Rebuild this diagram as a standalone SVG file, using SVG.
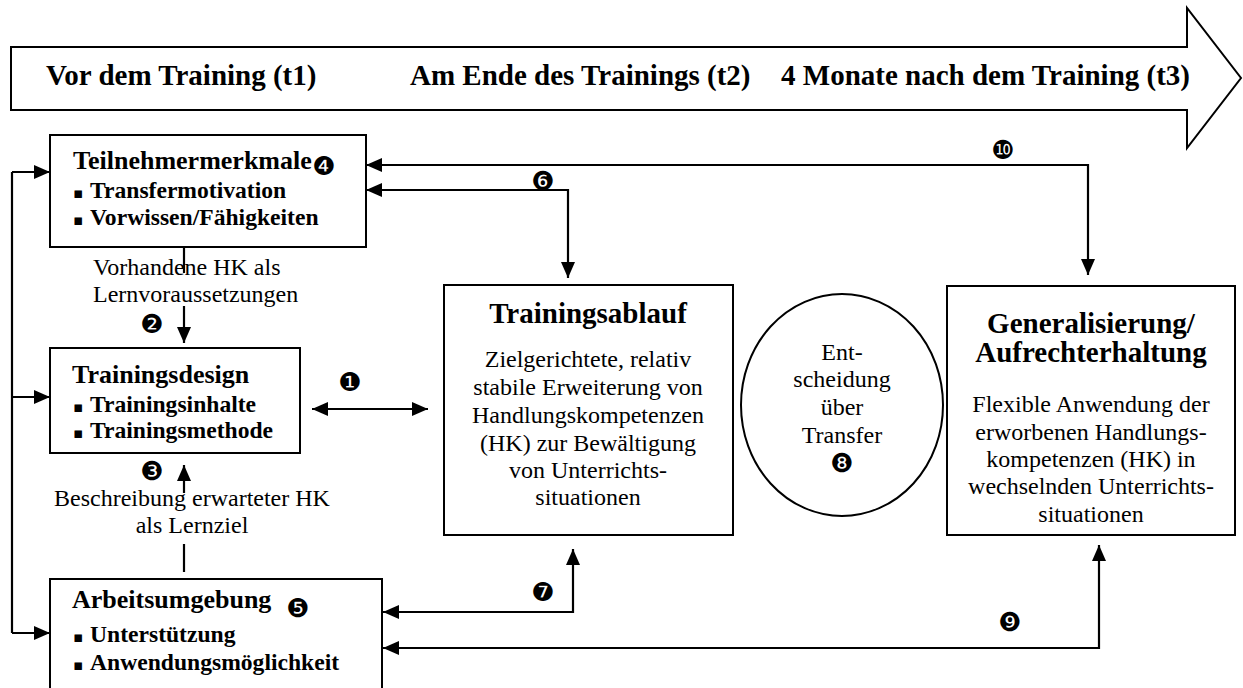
<svg xmlns="http://www.w3.org/2000/svg" width="1243" height="688" viewBox="0 0 1243 688">
  <style>
    .box { fill: #fff; stroke: #000; stroke-width: 2; }
    .line { fill: none; stroke: #000; stroke-width: 2.2; }
    .band, .h1, .h2, .item, .body { font-family: 'Liberation Serif', 'Times New Roman', Times, 'DejaVu Serif', serif; fill: #000; }
    .band { font-weight: bold; font-size: 29px; }
    .h1 { font-weight: bold; font-size: 29px; text-anchor: middle; }
    .h2 { font-weight: bold; font-size: 26px; }
    .item { font-weight: bold; font-size: 23.6px; }
    .body { font-size: 24px; }
    .mid { text-anchor: middle; }
    .num { font-family: 'DejaVu Sans', sans-serif; font-size: 26px; fill: #000; text-anchor: middle; }
    .sq { font-family: 'DejaVu Sans', sans-serif; font-size: 15px; }
  </style>
  <defs>
    <marker id="head" markerUnits="userSpaceOnUse" markerWidth="17" markerHeight="14" refX="16" refY="7" orient="auto-start-reverse">
      <path d="M0,0 L16,7 L0,14 z" fill="#000"/>
    </marker>
  </defs>

  <!-- time axis arrow -->
  <g id="timeline">
    <polygon class="box" points="11,47 1187,47 1187,8 1241,78 1187,148 1187,110 11,110"/>
    <text class="band" x="46" y="85">Vor dem Training (t1)</text>
    <text class="band" x="410" y="85">Am Ende des Trainings (t2)</text>
    <text class="band" x="1190" y="85" text-anchor="end">4 Monate nach dem Training (t3)</text>
  </g>

  <!-- connectors -->
  <g id="connectors">
    <!-- feedback loop on the left -->
    <path class="line" d="M12,172 V633"/>
    <path class="line" d="M12,172 H50" marker-end="url(#head)"/>
    <path class="line" d="M12,397 H50" marker-end="url(#head)"/>
    <path class="line" d="M12,633 H50" marker-end="url(#head)"/>
    <!-- 2: prior competences into design -->
    <path class="line" d="M184,229 V273"/>
    <path class="line" d="M184,306 V343" marker-end="url(#head)"/>
    <!-- 3: learning goal into design -->
    <path class="line" d="M184,493 V465" marker-end="url(#head)"/>
    <path class="line" d="M184,544 V572"/>
    <!-- 1: design <-> training process -->
    <path class="line" d="M312,409 H428" marker-start="url(#head)" marker-end="url(#head)"/>
    <!-- 6 -->
    <path class="line" d="M366,190 H568 V278" marker-start="url(#head)" marker-end="url(#head)"/>
    <!-- 10 -->
    <path class="line" d="M366,165 H1088 V275" marker-start="url(#head)" marker-end="url(#head)"/>
    <!-- 7 -->
    <path class="line" d="M383,612 H573 V549" marker-start="url(#head)" marker-end="url(#head)"/>
    <!-- 9 -->
    <path class="line" d="M383,648 H1099 V545" marker-start="url(#head)" marker-end="url(#head)"/>
  </g>

  <!-- connector labels -->
  <g id="connector-labels">
    <text class="body" x="93" y="275">Vorhandene HK als</text>
    <text class="body" x="93" y="302">Lernvoraussetzungen</text>
    <text class="body mid" x="192" y="506">Beschreibung erwarteter HK</text>
    <text class="body mid" x="192" y="533">als Lernziel</text>
    <text class="num" x="350" y="391">❶</text>
    <text class="num" x="152" y="333">❷</text>
    <text class="num" x="152" y="480">❸</text>
    <text class="num" x="543" y="190">❻</text>
    <text class="num" x="543" y="601">❼</text>
    <text class="num" x="1010" y="631">❾</text>
    <text class="num" x="1003" y="159">❿</text>
  </g>

  <g id="teilnehmermerkmale">
    <rect class="box" x="50" y="135" width="316" height="112"/>
    <text class="h2" x="73" y="169">Teilnehmermerkmale</text>
    <text class="num" x="324" y="175">❹</text>
    <text class="item" x="73" y="198"><tspan class="sq">▪</tspan><tspan x="90">Transfermotivation</tspan></text>
    <text class="item" x="73" y="225"><tspan class="sq">▪</tspan><tspan x="90">Vorwissen/Fähigkeiten</tspan></text>
  </g>

  <g id="trainingsdesign">
    <rect class="box" x="50" y="348" width="250" height="105"/>
    <text class="h2" x="72" y="383">Trainingsdesign</text>
    <text class="item" x="73" y="412"><tspan class="sq">▪</tspan><tspan x="90">Trainingsinhalte</tspan></text>
    <text class="item" x="73" y="438"><tspan class="sq">▪</tspan><tspan x="90">Trainingsmethode</tspan></text>
  </g>

  <g id="arbeitsumgebung">
    <rect class="box" x="50" y="579" width="332" height="130"/>
    <text class="h2" x="72" y="608">Arbeitsumgebung</text>
    <text class="num" x="298" y="617">❺</text>
    <text class="item" x="73" y="642"><tspan class="sq">▪</tspan><tspan x="90">Unterstützung</tspan></text>
    <text class="item" x="73" y="670"><tspan class="sq">▪</tspan><tspan x="90">Anwendungsmöglichkeit</tspan></text>
  </g>

  <g id="trainingsablauf">
    <rect class="box" x="444" y="285" width="289" height="250"/>
    <text class="h1" x="588" y="323">Trainingsablauf</text>
    <text class="body mid" x="588" y="367">Zielgerichtete, relativ</text>
    <text class="body mid" x="588" y="395">stabile Erweiterung von</text>
    <text class="body mid" x="588" y="423">Handlungskompetenzen</text>
    <text class="body mid" x="588" y="451">(HK) zur Bewältigung</text>
    <text class="body mid" x="588" y="478">von Unterrichts-</text>
    <text class="body mid" x="588" y="505">situationen</text>
  </g>

  <g id="entscheidung">
    <ellipse class="box" cx="842" cy="405" rx="101" ry="111"/>
    <text class="body mid" x="842" y="360">Ent-</text>
    <text class="body mid" x="842" y="387">scheidung</text>
    <text class="body mid" x="842" y="415">über</text>
    <text class="body mid" x="842" y="443">Transfer</text>
    <text class="num" x="842" y="472">❽</text>
  </g>

  <g id="generalisierung">
    <rect class="box" x="947" y="286" width="288" height="249"/>
    <text class="h1" x="1091" y="333">Generalisierung/</text>
    <text class="h1" x="1091" y="362">Aufrechterhaltung</text>
    <text class="body mid" x="1091" y="412">Flexible Anwendung der</text>
    <text class="body mid" x="1091" y="440">erworbenen Handlungs-</text>
    <text class="body mid" x="1091" y="467">kompetenzen (HK) in</text>
    <text class="body mid" x="1091" y="494">wechselnden Unterrichts-</text>
    <text class="body mid" x="1091" y="522">situationen</text>
  </g>
</svg>
